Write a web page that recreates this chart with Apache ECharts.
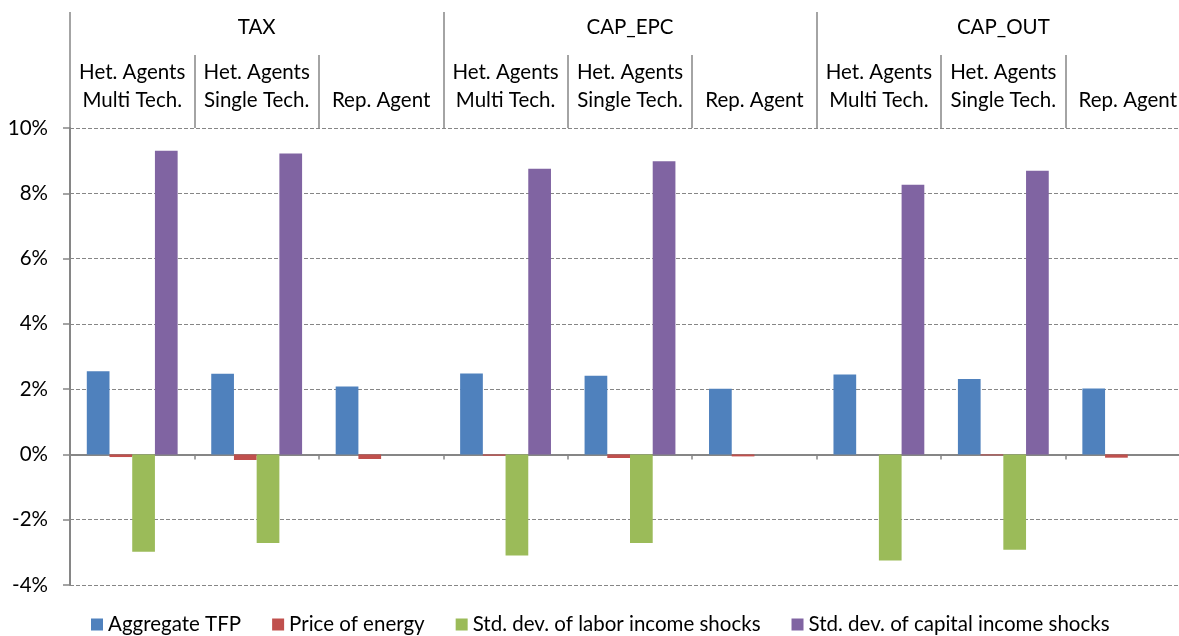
<!DOCTYPE html>
<html><head><meta charset="utf-8">
<script src="https://cdn.jsdelivr.net/npm/echarts@6/dist/echarts.min.js"></script>
<style>html,body{margin:0;padding:0;background:#fff}#c{width:1179px;height:636px}</style>
</head><body><div id="c"></div>
<script>
const groups = ['TAX', 'CAP_EPC', 'CAP_OUT'];
const subLabels = ['Het. Agents\nMulti Tech.', 'Het. Agents\nSingle Tech.', 'Rep. Agent',
                   'Het. Agents\nMulti Tech.', 'Het. Agents\nSingle Tech.', 'Rep. Agent',
                   'Het. Agents\nMulti Tech.', 'Het. Agents\nSingle Tech.', 'Rep. Agent'];
const categories = ['TAX Multi', 'TAX Single', 'TAX Rep', 'CAP_EPC Multi', 'CAP_EPC Single', 'CAP_EPC Rep', 'CAP_OUT Multi', 'CAP_OUT Single', 'CAP_OUT Rep'];
const seriesNames = ['Aggregate TFP', 'Price of energy', 'Std. dev. of labor income shocks', 'Std. dev. of capital income shocks'];
const tfp    = [0.0255, 0.0247, 0.0208, 0.0248, 0.0241, 0.0201, 0.0245, 0.0231, 0.0202];
const energy = [-0.0008, -0.0017, -0.0014, -0.0004, -0.0011, -0.0006, 0.0000, -0.0003, -0.0010];
const labor  = [-0.0298, -0.0271, 0, -0.0310, -0.0271, 0, -0.0325, -0.0292, 0];
const capital= [0.0930, 0.0922, 0, 0.0875, 0.0898, 0, 0.0826, 0.0869, 0];
const yTicks = {min: -0.04, max: 0.10, interval: 0.02};
const colors = ['#4F81BD', '#C0504D', '#9BBB59', '#8064A2'];

const FONT = 'Lato';
const FS = 20.5;
const axisGray = '#868686';
const chart = echarts.init(document.getElementById('c'));
const values = [tfp, energy, labor, capital];
chart.setOption({
  animation: false,
  textStyle: {fontFamily: FONT},
  grid: {left: 70, width: 1120, top: 128, bottom: 51, containLabel: false, outerBoundsMode: 'none'},
  legend: {
    top: 609, left: 86, itemWidth: 12, itemHeight: 12, itemGap: 31, icon: 'rect',
    textStyle: {fontFamily: FONT, fontSize: FS, color: '#000'},
    data: seriesNames
  },
  xAxis: [
    {type: 'category', data: categories, position: 'bottom',
     axisLine: {onZero: true, lineStyle: {color: axisGray, width: 2}},
     axisTick: {show: true, length: 5, lineStyle: {color: axisGray, width: 1.5}},
     axisLabel: {show: false}, splitLine: {show: false}},
    {type: 'category', data: subLabels, position: 'top', gridIndex: 0,
     axisLine: {show: false},
     axisTick: {show: true, length: 73, interval: 0, lineStyle: {color: axisGray, width: 1.5}},
     axisLabel: {show: true, interval: 0, margin: 14, fontFamily: FONT, fontSize: FS, lineHeight: 28, color: '#000'},
     splitLine: {show: false}},
    {type: 'category', data: groups, position: 'top', gridIndex: 0,
     axisLine: {show: false},
     axisTick: {show: true, length: 116, interval: 0, lineStyle: {color: axisGray, width: 1.5}},
     axisLabel: {show: true, interval: 0, margin: 87, fontFamily: FONT, fontSize: FS, lineHeight: 28, color: '#000'},
     splitLine: {show: false}}
  ],
  yAxis: {
    type: 'value', min: yTicks.min, max: yTicks.max, interval: yTicks.interval,
    axisLine: {show: true, lineStyle: {color: axisGray, width: 2}},
    axisTick: {show: true, length: 7, lineStyle: {color: axisGray, width: 1.5}},
    axisLabel: {margin: 22, fontFamily: FONT, fontSize: FS, color: '#000',
      formatter: v => Math.round(v * 100) + '%'},
    splitLine: {show: true, lineStyle: {color: axisGray, type: [4, 2], width: 1.2}}
  },
  series: seriesNames.map((n, i) => ({
    name: n, type: 'bar', xAxisIndex: 0, data: values[i],
    barGap: '0%', barCategoryGap: '27%',
    itemStyle: {color: colors[i]}
  }))
});
</script></body></html>
